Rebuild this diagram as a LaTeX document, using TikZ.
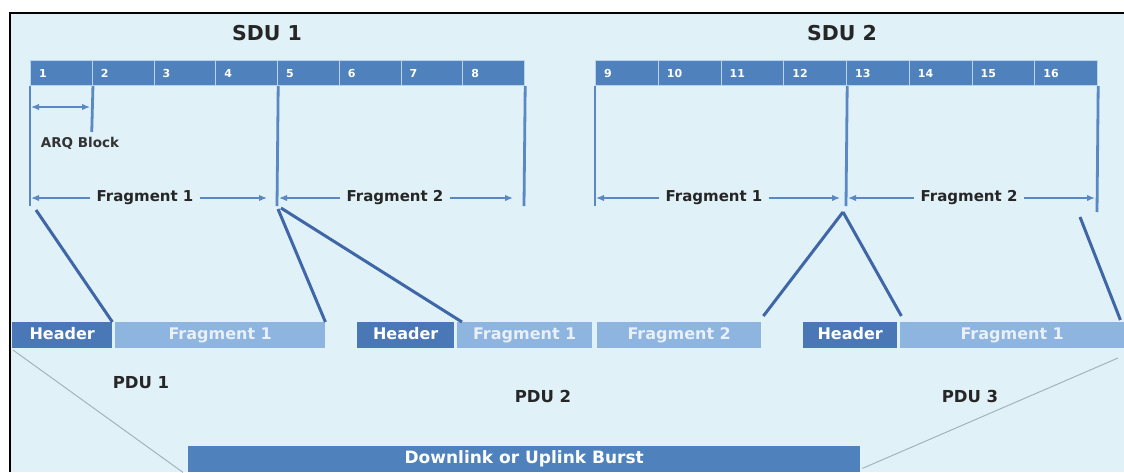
\documentclass[tikz,border=0pt]{standalone}
\usepackage{fontspec}
\setmainfont{DejaVu Sans}
\usetikzlibrary{arrows.meta}

\definecolor{bgc}{HTML}{E0F1F8}
\definecolor{cellblue}{HTML}{4F81BD}
\definecolor{hdrblue}{HTML}{4A78B6}
\definecolor{fragblue}{HTML}{8EB4E0}
\definecolor{vblue}{HTML}{5A88C4}
\definecolor{sblue}{HTML}{3F66A6}
\definecolor{gline}{HTML}{A6B2BE}
\definecolor{fragtext}{HTML}{E8F0F9}
\definecolor{sepc}{HTML}{B9D3EC}

\tikzset{
  cell/.style={anchor=north west, inner sep=0pt, minimum height=25pt,
    fill=cellblue, draw=sepc, line width=1.2pt},
  num/.style={anchor=west, inner sep=0pt, text=white, font=\fontsize{11}{11}\selectfont\bfseries},
  vline/.style={draw=vblue, line width=2.8pt},
  farrow/.style={draw=vblue, line width=1.4pt, {Latex[length=8pt,width=6.5pt]}-{Latex[length=8pt,width=6.5pt]}},
  flabel/.style={fill=bgc, inner xsep=7pt, inner ysep=1pt, font=\fontsize{15}{15}\selectfont\bfseries, text=black!85},
  title/.style={font=\fontsize{20.5}{20.5}\selectfont\bfseries, text=black!85},
  pdulabel/.style={font=\fontsize{16.5}{16.5}\selectfont\bfseries, text=black!85},
  pbox/.style={anchor=north west, inner sep=0pt, minimum height=26pt,
    text height=11.5pt, text depth=3pt, font=\fontsize{16}{16}\selectfont\bfseries},
  hbox/.style={pbox, fill=hdrblue, text=white},
  fbox/.style={pbox, fill=fragblue, text=fragtext},
  slant/.style={draw=sblue, line width=3pt},
  thin/.style={draw=gline, line width=1pt},
}

\begin{document}
\begin{tikzpicture}[x=1pt, y=-1pt]
\useasboundingbox (0,0) rectangle (1124,472);
\fill[white] (0,0) rectangle (1124,472);
\fill[bgc] (10,13) rectangle (1124,472);
\draw[black, line width=2pt] (10,472) -- (10,13) -- (1124,13);

% SDU titles
\node[title] (sdu1) at (267,33) {SDU 1};
\node[title] (sdu2) at (842,33) {SDU 2};

% SDU 1 blocks
\foreach \i in {1,...,8} {
  \node[cell, minimum width=61.75pt] (c\i) at ({30+(\i-1)*61.75},60) {};
  \node[num] at ([xshift=9pt]c\i.west) {\i};
}
% SDU 2 blocks
\foreach \i in {9,...,16} {
  \node[cell, minimum width=62.75pt] (c\i) at ({595+(\i-9)*62.75},60) {};
  \node[num] at ([xshift=9pt]c\i.west) {\i};
}

% fragment boundaries
\coordinate (v1) at (30,206);
\coordinate (va) at (91.75,132);
\coordinate (v2) at (277,206);
\coordinate (v3) at (524,206);
\coordinate (v4) at (595,206);
\coordinate (v5) at (846,206);
\coordinate (v6) at (1097,212);
\draw[vline] (c1.south west) -- (v1);
\draw[vline] (c1.south east) -- (va);
\draw[vline] (c4.south east) -- (v2);
\draw[vline] (c8.south east) -- (v3);
\draw[vline] (c9.south west) -- (v4);
\draw[vline] (c12.south east) -- (v5);
\draw[vline] (c16.south east) -- (v6);

% ARQ block
\coordinate (arql) at (31,107);
\coordinate (arqr) at (90,107);
\draw[farrow, line width=1.3pt] (arql) -- (arqr);
\node[font=\fontsize{13.5}{13.5}\selectfont\bfseries, text=black!80] (arq) at (80,143) {ARQ Block};

% fragment spans
\coordinate (f1l) at (31,198);  \coordinate (f1r) at (267,198);
\coordinate (f2l) at (279,198); \coordinate (f2r) at (513,198);
\coordinate (f3l) at (596,198); \coordinate (f3r) at (840,198);
\coordinate (f4l) at (848,198); \coordinate (f4r) at (1095,198);
\draw[farrow] (f1l) -- (f1r);
\draw[farrow] (f2l) -- (f2r);
\draw[farrow] (f3l) -- (f3r);
\draw[farrow] (f4l) -- (f4r);
\node[flabel] (lf1) at (145,198) {Fragment 1};
\node[flabel] (lf2) at (395,198) {Fragment 2};
\node[flabel] (lf3) at (714,198) {Fragment 1};
\node[flabel] (lf4) at (969,198) {Fragment 2};

% PDUs
\node[hbox, minimum width=100pt] (h1) at (12,322) {Header};
\node[fbox, minimum width=210pt] (p1) at (115,322) {Fragment 1};
\node[hbox, minimum width=97pt] (h2) at (357,322) {Header};
\node[fbox, minimum width=135pt] (p2a) at (457,322) {Fragment 1};
\node[fbox, minimum width=164pt] (p2b) at (597,322) {Fragment 2};
\node[hbox, minimum width=94pt] (h3) at (803,322) {Header};
\node[fbox, minimum width=224pt] (p3) at (900,322) {Fragment 1};

\node[pdulabel] (pdu1) at (141,383) {PDU 1};
\node[pdulabel] (pdu2) at (543,396) {PDU 2};
\node[pdulabel] (pdu3) at (970,396) {PDU 3};

% burst
\node[anchor=north west, inner sep=0pt, minimum width=672pt, minimum height=26pt,
  fill=cellblue, text=white, font=\fontsize{17}{17}\selectfont\bfseries] (burst) at (188,446)
  {Downlink or Uplink Burst};

% mapping of fragments into PDUs
\coordinate (s1) at (36,210);
\coordinate (s2) at (278,209);
\coordinate (s3) at (281,208);
\coordinate (apex) at (843,212);
\coordinate (s5) at (1080,217);
\draw[slant] (s1) -- (h1.north east);
\draw[slant] (s2) -- (p1.north east);
\draw[slant] (s3) -- ([xshift=5pt]p2a.north west);
\draw[slant] (apex) -- ([xshift=2pt,yshift=6pt]p2b.north east);
\draw[slant] (apex) -- ([xshift=4pt,yshift=6pt]h3.north east);
\draw[slant] (s5) -- ([xshift=-4pt,yshift=2pt]p3.north east);

% PDUs into the burst
\coordinate (g1) at (13,350);
\coordinate (g2) at (1118,358);
\draw[thin] (g1) -- ([xshift=-5pt]burst.south west);
\draw[thin] (g2) -- ([xshift=2pt,yshift=4pt]burst.south east);
\end{tikzpicture}
\end{document}
